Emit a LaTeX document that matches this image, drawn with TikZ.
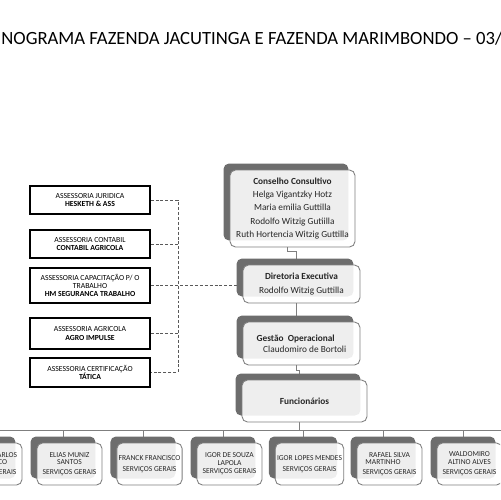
\documentclass[tikz,border=0pt]{standalone}
\usepackage{fontspec}
\setmainfont{Carlito}
\usepackage{tikz}
\usetikzlibrary{shadows,backgrounds}

\definecolor{shadegray}{HTML}{6D6D6D}
\definecolor{linegray}{HTML}{7F7F7F}
\definecolor{dashgray}{HTML}{595959}
\definecolor{textgray}{HTML}{262626}

\begin{document}
\begin{tikzpicture}[
  x=0.02cm,y=-0.02cm,
  asbox/.style={draw=black,line width=0.7pt,fill=white,minimum width=2.4cm,minimum height=0.56cm,inner sep=1pt,align=center,font=\fontsize{4.4}{4.6}\selectfont},
  orgbox/.style={draw=linegray,line width=0.5pt,rounded corners=0.11cm,fill=white,fill opacity=0.89,text opacity=1,text=textgray,align=center,inner sep=1pt,
    general shadow={fill=shadegray,fill opacity=1,shadow xshift=-0.13cm,shadow yshift=0.13cm}},
  chief/.style={orgbox,font=\fontsize{5.3}{7.5}\selectfont},
  worker/.style={orgbox,minimum width=1.3cm,minimum height=0.84cm,font=\fontsize{4.3}{4.4}\selectfont},
  orgline/.style={draw=linegray,line width=0.55pt},
  dashline/.style={draw=dashgray,line width=0.5pt,dash pattern=on 1.7pt off 1.1pt}
]
\useasboundingbox (0,0) rectangle (500,500);
\clip (0,0) rectangle (500,500);

\node[anchor=base west,inner sep=0pt,font=\fontsize{10.62}{12}\selectfont] (title) at (1,45) {NOGRAMA FAZENDA JACUTINGA E FAZENDA MARIMBONDO – 03/};

% assessorias
\node[asbox] (a1) at (90,200)   {ASSESSORIA JURIDICA\\\textbf{HESKETH \& ASS}};
\node[asbox] (a2) at (90,244)   {ASSESSORIA CONTABIL\\\textbf{CONTABIL AGRICOLA}};
\node[asbox,minimum height=0.70cm] (a3) at (90,285.5) {ASSESSORIA CAPACITAÇÃO P/ O\\TRABALHO\\\textbf{HM SEGURANCA TRABALHO}};
\node[asbox,minimum height=0.62cm] (a4) at (90,333.5) {ASSESSORIA AGRICOLA\\\textbf{AGRO IMPULSE}};
\node[asbox,minimum height=0.58cm] (a5) at (90,372.5) {ASSESSORIA CERTIFICAÇÃO\\\textbf{TÁTICA}};

% hierarquia
\node[chief,minimum width=2.5cm,minimum height=1.54cm] (cc) at (292.5,208.5) {\textbf{Conselho Consultivo}\\Helga Vigantzky Hotz\\Maria emilia Guttilla\\Rodolfo Witzig Gutiilla\\Ruth Hortencia Witzig Guttilla};
\node[chief,minimum width=2.34cm,minimum height=0.76cm] (de) at (301.5,284) {\textbf{Diretoria Executiva}\\Rodolfo Witzig Guttilla};
\node[chief,minimum width=2.34cm,minimum height=0.86cm,align=left,font=\fontsize{5.3}{6.2}\selectfont] (go) at (301.5,343.5) {\textbf{Gestão\ \ Operacional}\\\hspace*{0.13cm}Claudomiro de Bortoli};
\node[chief,minimum width=2.5cm,minimum height=0.84cm] (fu) at (304.5,401) {\textbf{Funcionários}};

% funcionarios
\node[worker] (e1) at (-10.5,464) {ANTONIO CARLOS\\FRANCISCO\\[1.1pt]SERVIÇOS GERAIS};
\node[worker] (e2) at (69.5,464)  {ELIAS MUNIZ\\SANTOS\\[1.1pt]SERVIÇOS GERAIS};
\node[worker] (e3) at (149.5,464) {FRANCK FRANCISCO\\[1.7pt]SERVIÇOS GERAIS};
\node[worker] (e4) at (229.5,464) {IGOR DE SOUZA\\LAPOLA\\[0.3pt]SERVIÇOS GERAIS};
\node[worker] (e5) at (309.5,464) {IGOR LOPES MENDES\\[1.7pt]SERVIÇOS GERAIS};
\node[worker] (e6) at (389.5,464) {RAFAEL SILVA\\\hspace*{-0.26cm}MARTINHO\\[1.1pt]SERVIÇOS GERAIS};
\node[worker] (e7) at (469.5,464) {WALDOMIRO\\ALTINO ALVES\\[1.4pt]SERVIÇOS GERAIS};

\coordinate (trunk) at (178,0);
\coordinate (busL) at (-60,430);
\coordinate (busR) at (560,430);

\begin{scope}[on background layer]
\draw[dashline] (a1.east) -- (a1.east -| trunk) -- (a5.east -| trunk) -- (a5.east);
\draw[dashline] (a2.east) -- (a2.east -| trunk); \draw[dashline] (a4.east) -- (a4.east -| trunk);
\draw[dashline] (a3.east) -- (a3.east -| de.west);
\draw[orgline] ([xshift=-0.1cm]cc.south) -- ++(0,4) -| ([xshift=-0.1cm]de.north);
\draw[orgline] ([xshift=-0.1cm]de.south) -- ([xshift=-0.1cm]go.north);
\draw[orgline] ([xshift=-0.1cm]go.south) -- ++(0,5) -| ([xshift=-0.1cm]fu.north);
\draw[orgline] ([xshift=-0.1cm]fu.south) -- ([xshift=-0.1cm]fu.south |- busL);
\draw[orgline] (busL) -- (busR);
\draw[orgline] ([xshift=-0.13cm]e1.north) -- ([xshift=-0.13cm]e1.north |- busL); \draw[orgline] ([xshift=-0.13cm]e2.north) -- ([xshift=-0.13cm]e2.north |- busL);
\draw[orgline] ([xshift=-0.13cm]e3.north) -- ([xshift=-0.13cm]e3.north |- busL); \draw[orgline] ([xshift=-0.13cm]e4.north) -- ([xshift=-0.13cm]e4.north |- busL);
\draw[orgline] ([xshift=-0.13cm]e5.north) -- ([xshift=-0.13cm]e5.north |- busL); \draw[orgline] ([xshift=-0.13cm]e6.north) -- ([xshift=-0.13cm]e6.north |- busL);
\draw[orgline] ([xshift=-0.13cm]e7.north) -- ([xshift=-0.13cm]e7.north |- busL);
\end{scope}
\end{tikzpicture}
\end{document}
